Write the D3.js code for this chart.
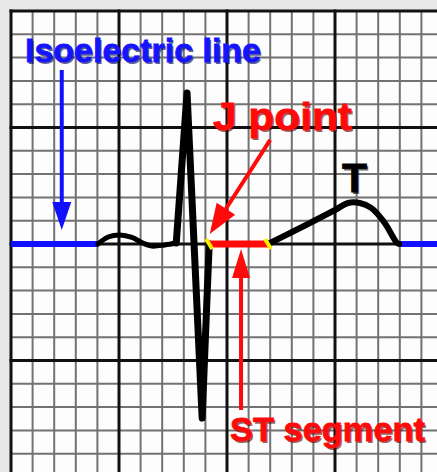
<!DOCTYPE html>
<html>
<head>
<meta charset="utf-8">
<script src="https://cdn.jsdelivr.net/npm/d3@7"></script>
<style>
  html, body { margin: 0; padding: 0; background: #e8e8e8; }
  svg { display: block; }
  text { font-family: "Liberation Sans", Arial, sans-serif; font-weight: bold; }
</style>
</head>
<body>
<script>
const width = 437;
const height = 472;

// ECG trace, time in seconds, amplitude in mV
const baselineStart = [[0, 0], [0.161, 0]];
const pWave = [[0.161, 0], [0.180, 0.030], [0.202, 0.039], [0.224, 0.028],
               [0.244, 0.004], [0.261, -0.009], [0.285, -0.004], [0.306, 0.004]];
const qrs = [[0.306, 0.004], [0.326, 0.648], [0.354, -0.747], [0.367, 0]];
const stSegment = [[0.367, 0], [0.476, 0]];
const tWave = [[0.476, 0], [0.539, 0.073], [0.600, 0.146], [0.624, 0.176],
               [0.646, 0.176], [0.667, 0.155], [0.691, 0.094], [0.715, 0.004], [0.719, 0]];
const baselineEnd = [[0.719, 0], [0.79, 0]];

// grid: 0.04 s and 0.1 mV per small square
const minorT = d3.range(0, 0.81, 0.04);
const majorT = d3.range(0, 0.81, 0.2);
const minorV = d3.range(-1.0, 1.01, 0.1);
const majorV = d3.range(-1.0, 1.01, 0.5);

let x = d3.scaleLinear().domain([0, 0.2]).range([11, 119]);
let y = d3.scaleLinear().domain([0, 0.5]).range([244, 127.5]);

let svg = d3.select("body").append("svg")
    .attr("width", width)
    .attr("height", height);

svg.append("rect")
    .attr("x", x(0)).attr("y", y(1))
    .attr("width", width).attr("height", height)
    .attr("fill", "#fdfdfd");

let grid = svg.append("g");

// small squares
grid.selectAll(".vmin").data(minorT).join("line")
    .attr("x1", d => x(d)).attr("x2", d => x(d))
    .attr("y1", y(1)).attr("y2", height)
    .attr("stroke", "#727272").attr("stroke-width", 2);
grid.selectAll(".hmin").data(minorV.filter(v => v <= 1.0001)).join("line")
    .attr("class", "h")
    .attr("x1", x(0)).attr("x2", width)
    .attr("y1", d => y(d)).attr("y2", d => y(d))
    .attr("stroke", "#727272").attr("stroke-width", 2);

// big squares
let major = svg.append("g");
major.selectAll("line.v").data(majorT).join("line")
    .attr("class", "v")
    .attr("x1", d => x(d)).attr("x2", d => x(d))
    .attr("y1", y(1) - 1.5).attr("y2", height)
    .attr("stroke", "#111").attr("stroke-width", 3);
major.selectAll("line.h").data(majorV.filter(v => v <= 1.0001)).join("line")
    .attr("class", "h")
    .attr("x1", x(0) - 1.5).attr("x2", width)
    .attr("y1", d => y(d)).attr("y2", d => y(d))
    .attr("stroke", "#111").attr("stroke-width", 3);

////////////////
// Draw trace //
////////////////
let line = d3.line().x(d => x(d[0])).y(d => y(d[1]));
let smooth = d3.line().x(d => x(d[0])).y(d => y(d[1])).curve(d3.curveCatmullRom);

let trace = svg.append("g")
    .attr("fill", "none")
    .attr("stroke-linecap", "round")
    .attr("stroke-linejoin", "round");

trace.append("path").attr("d", line(baselineStart))
    .attr("stroke", "#1010ff").attr("stroke-width", 6).attr("stroke-linecap", "butt");
trace.append("path").attr("d", line(baselineEnd))
    .attr("stroke", "#1010ff").attr("stroke-width", 6).attr("stroke-linecap", "butt");
trace.append("path").attr("d", smooth(pWave))
    .attr("stroke", "#000").attr("stroke-width", 5);
trace.append("path").attr("d", line(qrs))
    .attr("stroke", "#000").attr("stroke-width", 7);
trace.append("path").attr("d", smooth(tWave))
    .attr("stroke", "#000").attr("stroke-width", 6);
trace.append("path").attr("d", line(stSegment))
    .attr("stroke", "#ff0a0a").attr("stroke-width", 7).attr("stroke-linecap", "butt");

// yellow ticks at the ends of the ST segment
trace.selectAll(".tick").data([stSegment[0], stSegment[1]]).join("line")
    .attr("x1", d => x(d[0]) - 3).attr("y1", d => y(d[1]) - 5)
    .attr("x2", d => x(d[0]) + 3).attr("y2", d => y(d[1]) + 5)
    .attr("stroke", "#ffee00").attr("stroke-width", 4).attr("stroke-linecap", "butt");

/////////////////
// Annotations //
/////////////////
function arrow(x1, y1, x2, y2, color, headLen, headW, lw) {
    let a = Math.atan2(y2 - y1, x2 - x1);
    let bx = x2 - headLen * Math.cos(a), by = y2 - headLen * Math.sin(a);
    let px = -Math.sin(a) * headW / 2, py = Math.cos(a) * headW / 2;
    svg.append("line")
        .attr("x1", x1).attr("y1", y1).attr("x2", bx).attr("y2", by)
        .attr("stroke", color).attr("stroke-width", lw);
    svg.append("polygon")
        .attr("points", [[x2, y2], [bx + px, by + py], [bx - px, by - py]].map(p => p.join(",")).join(" "))
        .attr("fill", color);
}

arrow(x(0.094), y(0.747), x(0.094), y(0.06), "#1010ff", 28, 19, 4);
arrow(x(0.480), y(0.447), x(0.368), y(0.043), "#ff0a0a", 30, 22, 4);
arrow(x(0.426), y(-0.712), x(0.426), y(-0.021), "#ff0a0a", 29, 18, 4);

function label(txt, lx, ly, size, len, color, shade) {
    svg.append("text")
        .attr("x", lx + 1.5).attr("y", ly + 1.5)
        .attr("font-size", size)
        .attr("textLength", len).attr("lengthAdjust", "spacingAndGlyphs")
        .attr("fill", shade).attr("opacity", 0.6)
        .text(txt);
    svg.append("text")
        .attr("x", lx).attr("y", ly)
        .attr("font-size", size)
        .attr("textLength", len).attr("lengthAdjust", "spacingAndGlyphs")
        .attr("fill", color)
        .attr("stroke", color).attr("stroke-width", 0.8)
        .text(txt);
}

label("Isoelectric line", 25, 62, 34, 236, "#1414ff", "#000050");
label("J point", 213, 130, 38, 139, "#ff0a0a", "#500000");
label("T", 342, 192, 40, 25, "#000", "#000");
label("ST segment", 230, 441, 33, 195, "#ff0a0a", "#500000");
</script>
</body>
</html>
